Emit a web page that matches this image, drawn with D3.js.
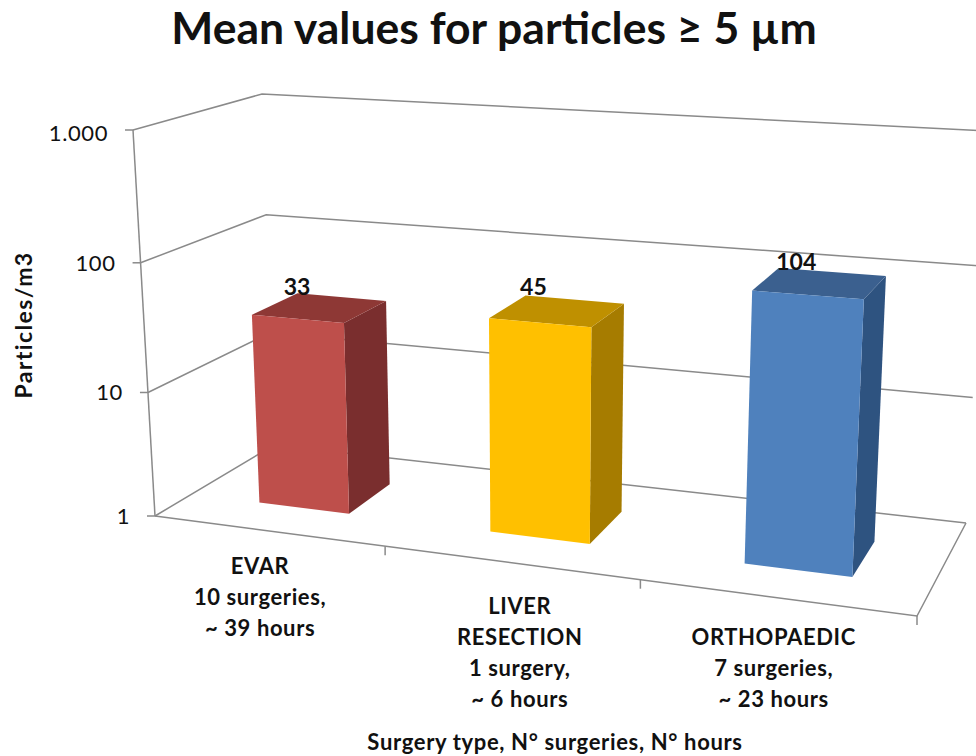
<!DOCTYPE html>
<html>

<head>
  <meta charset="UTF-8" />
  <title>Mean values for particles</title>
  <style>
    html, body {
      margin: 0;
      background: white;
    }

    text {
      font-family: Lato, "Open Sans", sans-serif;
      fill: #111;
    }
  </style>
  <script src="https://d3js.org/d3.v7.min.js"></script>
</head>

<body>
  <script>
    let width = 976;
    let height = 756;

    let categories = ["EVAR", "LIVER RESECTION", "ORTHOPAEDIC"];
    let values = [33, 45, 104];
    let categoryLines = [
      ["EVAR", "10 surgeries,", "~ 39 hours"],
      ["LIVER", "RESECTION", "1 surgery,", "~ 6 hours"],
      ["ORTHOPAEDIC", "7 surgeries,", "~ 23 hours"]
    ];
    let tickValues = [1, 10, 100, 1000];
    let tickLabels = ["1", "10", "100", "1.000"];
    let barColors = [
      { front: "#BE4F4C", side: "#7A2F2D", top: "#8E3836" },
      { front: "#FFC000", side: "#A67C00", top: "#BF9000" },
      { front: "#4F81BD", side: "#2F5280", top: "#3B618F" }
    ];

    /* corners of the plot box on screen, f/b = front/back, l/r = left/right */
    let floor = { fl: [155, 516], fr: [917, 616], bl: [274, 445], br: [966, 523] };
    let roof = { fl: [133, 130], fr: [939, 176], bl: [262, 94], br: [987, 131] };

    /* the scales are not even because of the perspective */
    let xScale = d3.scaleLinear().domain([0, 1, 2, 3]).range([0, 0.302, 0.637, 1]);
    let yScale = d3.scaleLog().domain(tickValues).range([0, 0.32, 0.656, 1]);

    let barStart = 0.302, barEnd = 0.703;
    let depthFront = 0.31, depthBack = 0.7;

    function mix(a, b, t) {
      return [a[0] + (b[0] - a[0]) * t, a[1] + (b[1] - a[1]) * t];
    }

    function plane(p, u, w) {
      return mix(mix(p.fl, p.fr, u), mix(p.bl, p.br, u), w);
    }

    /* x in category units, w 0 front to 1 back, v in data units */
    function project(x, w, v) {
      let u = xScale(x);
      return mix(plane(floor, u, w), plane(roof, u, w), yScale(v));
    }

    let line = d3.line();

    let svg = d3.select("body")
      .append("svg")
      .attr("width", width)
      .attr("height", height)
      .style("display", "block");

    svg.append("defs")
      .append("filter")
      .attr("id", "soft")
      .append("feGaussianBlur")
      .attr("stdDeviation", 0.45);

    /* Title */
    svg.append("text")
      .attr("x", 494)
      .attr("y", 44)
      .attr("text-anchor", "middle")
      .style("font-size", "44.5px")
      .style("font-weight", "bold")
      .text("Mean values for particles ≥ 5 µm");

    let grid = svg.append("g")
      .attr("fill", "none")
      .attr("stroke", "#8a8a8a")
      .attr("stroke-width", 1.5)
      .attr("filter", "url(#soft)");

    /* Side and back wall gridlines */
    grid.selectAll(".gridline")
      .data(tickValues)
      .enter()
      .append("path")
      .attr("class", "gridline")
      .attr("d", d => line([project(0, 0, d), project(0, 1, d), project(3, 1, d)]));

    /* Y axis with ticks */
    grid.append("path")
      .attr("d", line([project(0, 0, 1), project(0, 0, 1000)]));
    grid.selectAll(".y-tick")
      .data(tickValues)
      .enter()
      .append("path")
      .attr("class", "y-tick")
      .attr("d", d => {
        let p = project(0, 0, d);
        return line([[p[0] - 8, p[1]], p]);
      });

    /* Floor edges with x ticks */
    grid.append("path")
      .attr("d", line([project(0, 0, 1), project(3, 0, 1), project(3, 1, 1)]));
    grid.selectAll(".x-tick")
      .data([1, 2, 3])
      .enter()
      .append("path")
      .attr("class", "x-tick")
      .attr("d", d => {
        let p = project(d, 0, 1);
        return line([p, [p[0], p[1] + 9]]);
      });

    /* Bars, each one three visible faces */
    let bars = svg.selectAll(".bar")
      .data(values)
      .enter()
      .append("g")
      .attr("class", "bar")
      .attr("filter", "url(#soft)");

    bars.append("path")
      .attr("fill", (d, i) => barColors[i].side)
      .attr("d", (d, i) => line([
        project(i + barEnd, depthFront, 1),
        project(i + barEnd, depthBack, 1),
        project(i + barEnd, depthBack, d),
        project(i + barEnd, depthFront, d)
      ]) + "Z");

    bars.append("path")
      .attr("fill", (d, i) => barColors[i].top)
      .attr("d", (d, i) => line([
        project(i + barStart, depthFront, d),
        project(i + barEnd, depthFront, d),
        project(i + barEnd, depthBack, d),
        project(i + barStart, depthBack, d)
      ]) + "Z");

    bars.append("path")
      .attr("fill", (d, i) => barColors[i].front)
      .attr("d", (d, i) => line([
        project(i + barStart, depthFront, 1),
        project(i + barEnd, depthFront, 1),
        project(i + barEnd, depthFront, d),
        project(i + barStart, depthFront, d)
      ]) + "Z");

    /* Value labels sit on the back edge of the bar top */
    let valueLabelDy = [2, -1, 1];
    svg.selectAll(".value-label")
      .data(values)
      .enter()
      .append("text")
      .attr("class", "value-label")
      .attr("text-anchor", "middle")
      .attr("x", (d, i) => project(i + 0.3 + 0.034 * i, depthBack, d)[0])
      .attr("y", (d, i) => project(i + 0.3 + 0.034 * i, depthBack, d)[1] + valueLabelDy[i])
      .style("font-size", "23px")
      .style("font-weight", "bold")
      .text(d => d);

    /* Y tick labels */
    let tickLabelDy = [8, 8, 8, 11];
    svg.selectAll(".y-label")
      .data(tickValues)
      .enter()
      .append("text")
      .attr("class", "y-label")
      .attr("text-anchor", "end")
      .attr("x", d => project(0, 0, d)[0] - 25)
      .attr("y", (d, i) => project(0, 0, d)[1] + tickLabelDy[i])
      .style("font-size", "22px")
      .style("letter-spacing", "0.6px")
      .text((d, i) => tickLabels[i]);

    svg.append("text")
      .attr("transform", "translate(32,325) rotate(-90)")
      .attr("text-anchor", "middle")
      .style("font-size", "23px")
      .style("letter-spacing", "1.4px")
      .style("font-weight", "bold")
      .text("Particles/m3");

    /* Category labels hang under the middle of each band */
    let labelNudge = [[-10, 43], [7, 51], [-5, 47]];
    let labels = svg.selectAll(".category-label")
      .data(categoryLines)
      .enter()
      .append("text")
      .attr("class", "category-label")
      .attr("text-anchor", "middle")
      .style("font-size", "22px")
      .style("letter-spacing", "0.6px")
      .style("font-weight", "bold");

    labels.selectAll("tspan")
      .data((d, i) => d.map((t, j) => ({ t, j, i })))
      .enter()
      .append("tspan")
      .attr("x", d => project(d.i + 0.5, 0, 1)[0] + labelNudge[d.i][0])
      .attr("y", d => project(d.i + 0.5, 0, 1)[1] + labelNudge[d.i][1] + d.j * 31)
      .text(d => d.t);

    svg.append("text")
      .attr("x", 555)
      .attr("y", 750)
      .attr("text-anchor", "middle")
      .style("font-size", "22px")
      .style("letter-spacing", "0.65px")
      .style("font-weight", "bold")
      .text("Surgery type, N° surgeries, N° hours");
  </script>
</body>

</html>
